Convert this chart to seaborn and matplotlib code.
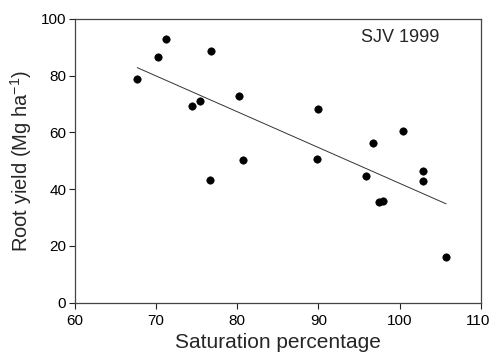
import matplotlib
matplotlib.use("Agg")
import matplotlib.pyplot as plt
import matplotlib.transforms as mtransforms
import seaborn as sns
import pandas as pd

saturation = [67.7, 70.2, 71.2, 76.8, 74.4, 75.4, 80.2, 80.7, 76.7, 90.0, 100.4, 96.7,
              89.8, 95.8, 102.9, 102.9, 97.5, 97.9, 105.7]
root_yield = [78.8, 86.6, 93.0, 88.6, 69.4, 70.9, 72.7, 50.1, 43.2, 68.2, 60.5, 56.1,
              50.7, 44.7, 46.4, 43.0, 35.4, 35.9, 16.0]
x_ticks = [60, 70, 80, 90, 100, 110]
y_ticks = [0, 20, 40, 60, 80, 100]

df = pd.DataFrame({"sat": saturation, "yield": root_yield})

sns.set_style("ticks")
plt.rcParams["font.family"] = ["Liberation Sans", "DejaVu Sans"]
plt.rcParams["mathtext.fontset"] = "custom"
plt.rcParams["mathtext.rm"] = "Liberation Sans"

fig = plt.figure(figsize=(4.92, 3.57), dpi=100)
ax = fig.add_axes([0.1518, 0.152, 0.8258, 0.7956])

sns.regplot(data=df, x="sat", y="yield", ax=ax, ci=None, truncate=True,
            scatter_kws=dict(s=28, color="black", edgecolor="black", linewidths=0.5, alpha=1),
            line_kws=dict(color="#333333", lw=0.7))

ax.set_xlim(60, 110)
ax.set_ylim(0, 100)
ax.set_xticks(x_ticks)
ax.set_yticks(y_ticks)
ax.tick_params(axis="both", direction="out", length=4, width=0.8, colors="#222222",
               labelsize=11, labelcolor="black")
ax.tick_params(axis="x", pad=4)
ax.tick_params(axis="y", pad=2)
for sp in ax.spines.values():
    sp.set_visible(True)
    sp.set_linewidth(0.9)
    sp.set_color("#444444")

# nudge the last x tick label so it stays inside the figure
last = ax.get_xticklabels()[-1]
last.set_transform(last.get_transform() +
                   mtransforms.ScaledTranslation(-3 / 100, 0, fig.dpi_scale_trans))

ax.set_xlabel("Saturation percentage", fontsize=15, labelpad=4)
ax.set_ylabel("Root yield (Mg ha$^{-1}$)", fontsize=14.5, labelpad=5)
ax.text(0.80, 0.935, "SJV 1999", transform=ax.transAxes, ha="center", va="center",
        fontsize=13)

fig.savefig("out.png", dpi=100)
